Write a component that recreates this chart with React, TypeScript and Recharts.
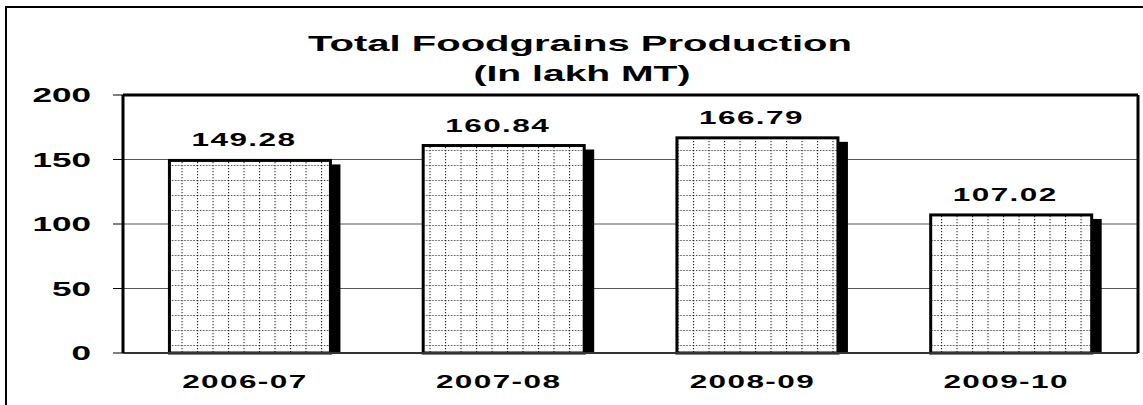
import { BarChart, Bar, XAxis, YAxis, CartesianGrid, ReferenceLine, LabelList } from "recharts";

const years = ["2006-07", "2007-08", "2008-09", "2009-10"];
const production = [149.28, 160.84, 166.79, 107.02];
const yTicks = [0, 50, 100, 150, 200];
const edgeTicks = [0, 1, 2, 3, 4];
const titleLines = ["Total Foodgrains Production", "(In lakh MT)"];

const data = years.map((year, i) => ({ year, production: production[i] }));

const font = "'Liberation Sans', Arial, sans-serif";

// the source image is stretched sideways, so text gets a horizontal scale
const STRETCH = 1.75;

function PatternBar(props: any) {
  const { x, y, width, height } = props;
  return (
    <g>
      <rect x={x + width} y={y + 4} width={10} height={Math.max(height - 4, 0)} fill="#000" />
      <rect x={x} y={y} width={width} height={height} fill="url(#dotGrid)" stroke="#000" strokeWidth={3} />
    </g>
  );
}

function ValueLabel(props: any) {
  const { x, y, width, value } = props;
  return (
    <text
      transform={`translate(${x + width / 2 - 6},${y - 14}) scale(${STRETCH},1)`}
      textAnchor="middle"
      fontFamily={font}
      fontWeight="bold"
      fontSize={18}
      letterSpacing={0.8}
      fill="#000"
    >
      {Number(value).toFixed(2)}
    </text>
  );
}

function YearTick({ x, y, payload }: any) {
  return (
    <text
      transform={`translate(${x - 5},${y}) scale(${STRETCH},1)`}
      dy={13}
      textAnchor="middle"
      fontFamily={font}
      fontWeight="bold"
      fontSize={18}
      letterSpacing={0.8}
      fill="#000"
    >
      {payload.value}
    </text>
  );
}

function ValueTick({ x, y, payload }: any) {
  return (
    <text
      transform={`translate(${x},${y}) scale(1.8,1)`}
      dy={7}
      textAnchor="end"
      fontFamily={font}
      fontWeight="bold"
      fontSize={19.5}
      fill="#000"
    >
      {payload.value}
    </text>
  );
}

export default function App() {
  return (
    <div style={{ position: "fixed", left: 0, top: 0, width: 1143, height: 405, background: "#fff", overflow: "hidden" }}>
      <svg width={1143} height={405} style={{ position: "absolute", left: 0, top: 0 }}>
        <path d="M6,420 L6,7 L1160,7" fill="none" stroke="#000" strokeWidth={2} />
        <text x={580} y={51} textAnchor="middle" fontFamily={font} fontWeight="bold" fontSize={22} textLength={544} lengthAdjust="spacingAndGlyphs">
          {titleLines[0]}
        </text>
        <text x={582} y={81} textAnchor="middle" fontFamily={font} fontWeight="bold" fontSize={22} textLength={217} lengthAdjust="spacingAndGlyphs">
          {titleLines[1]}
        </text>
      </svg>
      <div style={{ position: "absolute", left: 0, top: 0 }}>
        <BarChart
          width={1143}
          height={405}
          data={data}
          margin={{ top: 95, right: 0, bottom: 0, left: 8 }}
          barCategoryGap="18.3%"
        >
          <defs>
            <pattern id="dotGrid" patternUnits="userSpaceOnUse" x={11} y={0} width={15.5} height={15}>
              <rect width={15.5} height={15} fill="#fff" />
              <line x1={0.5} y1={0} x2={0.5} y2={15} stroke="#222" strokeWidth={1.2} strokeDasharray="1.2 1.8" />
              <line x1={0} y1={0.5} x2={15.5} y2={0.5} stroke="#222" strokeWidth={1.2} strokeDasharray="1.2 1.8" />
            </pattern>
          </defs>
          <CartesianGrid vertical={false} stroke="#555" strokeWidth={1} yAxisId="left" />
          <XAxis
            xAxisId="edges"
            type="number"
            domain={[0, 4]}
            ticks={edgeTicks}
            height={0}
            axisLine={false}
            tickSize={6}
            tickLine={{ stroke: "#000", strokeWidth: 1 }}
            tick={() => <g />}
          />
          <XAxis
            xAxisId="cat"
            dataKey="year"
            height={52}
            axisLine={{ stroke: "#333", strokeWidth: 2 }}
            tickLine={false}
            tickSize={0}
            tickMargin={22}
            tick={<YearTick />}
            interval={0}
          />
          <YAxis
            yAxisId="left"
            domain={[0, 200]}
            ticks={yTicks}
            width={115}
            axisLine={{ stroke: "#000", strokeWidth: 3 }}
            tickLine={{ stroke: "#000", strokeWidth: 1 }}
            tickSize={10}
            tickMargin={22}
            tick={<ValueTick />}
            interval={0}
          />
          <YAxis
            yAxisId="right"
            orientation="right"
            domain={[0, 200]}
            width={5}
            axisLine={{ stroke: "#000", strokeWidth: 3 }}
            tickLine={false}
            tick={false}
          />
          <ReferenceLine y={200} yAxisId="left" xAxisId="cat" stroke="#000" strokeWidth={3} />
          <Bar
            dataKey="production"
            xAxisId="cat"
            yAxisId="left"
            shape={<PatternBar />}
            isAnimationActive={false}
          >
            <LabelList dataKey="production" content={<ValueLabel />} />
          </Bar>
        </BarChart>
      </div>
    </div>
  );
}
